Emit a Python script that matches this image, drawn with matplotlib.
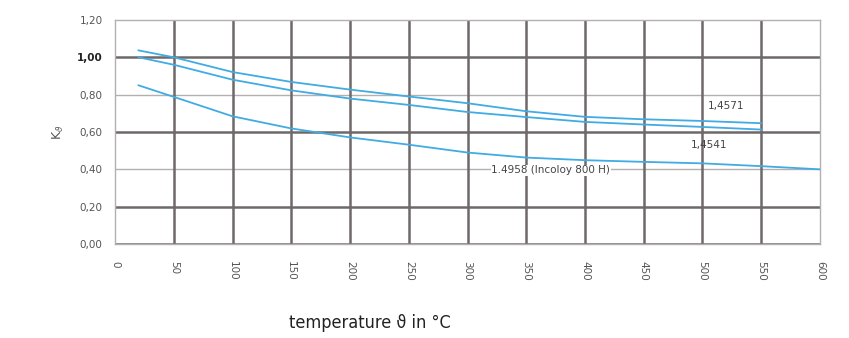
import matplotlib
matplotlib.use("Agg")
import matplotlib.pyplot as plt

# data
temps = [20, 50, 100, 150, 200, 250, 300, 350, 400, 450, 500, 550]
k_4571 = [1.037, 1.00, 0.921, 0.868, 0.827, 0.79, 0.754, 0.711, 0.681, 0.668, 0.659, 0.647]
k_4541 = [1.00, 0.96, 0.88, 0.823, 0.779, 0.745, 0.707, 0.68, 0.654, 0.64, 0.627, 0.613]
temps_4958 = [20, 50, 100, 150, 200, 250, 300, 350, 400, 450, 500, 550, 600]
k_4958 = [0.85, 0.788, 0.684, 0.619, 0.571, 0.532, 0.49, 0.463, 0.449, 0.44, 0.432, 0.417, 0.40]

x_ticks = list(range(0, 601, 50))
y_ticks = [0.0, 0.2, 0.4, 0.6, 0.8, 1.0, 1.2]
y_labels = ["0,00", "0,20", "0,40", "0,60", "0,80", "1,00", "1,20"]
thick_y = [0.0, 0.2, 0.6, 1.0]
thin_y = [0.4, 0.8]

line_color = "#41abe3"
dark_grid = "#6e6869"
light_grid = "#b5b0b0"
tick_color = "#555555"

fig = plt.figure(figsize=(8.49, 3.38), dpi=100)
ax = fig.add_axes([0.1355, 0.278, 0.8303, 0.663])

for y in thin_y:
    ax.axhline(y, color=light_grid, lw=1.0, zorder=1)
for y in thick_y:
    ax.axhline(y, color=dark_grid, lw=1.8, zorder=1)
for x in x_ticks[1:-1]:
    ax.axvline(x, color=dark_grid, lw=1.8, zorder=1)

ax.plot(temps, k_4571, color=line_color, lw=1.3, zorder=3)
ax.plot(temps, k_4541, color=line_color, lw=1.3, zorder=3)
ax.plot(temps_4958, k_4958, color=line_color, lw=1.3, zorder=3)

ax.text(520, 0.737, "1,4571", fontsize=7.5, color="#444444", ha="center", va="center", zorder=4)
ax.text(506, 0.53, "1,4541", fontsize=7.5, color="#444444", ha="center", va="center", zorder=4)
ax.text(371, 0.394, "1.4958 (Incoloy 800 H)", fontsize=7.5, color="#444444",
        ha="center", va="center", zorder=4,
        bbox=dict(facecolor="white", edgecolor="none", pad=0.5))

ax.set_xlim(0, 600)
ax.set_ylim(0, 1.2)
ax.set_xticks(x_ticks)
ax.set_xticklabels([str(t) for t in x_ticks], rotation=-90, fontsize=7.5, color=tick_color)
ax.set_yticks(y_ticks)
ax.set_yticklabels(y_labels, fontsize=7.5, color=tick_color)
for lbl in ax.get_yticklabels():
    if lbl.get_text() == "1,00":
        lbl.set_color("#222222")
        lbl.set_fontweight("bold")
ax.tick_params(axis="y", length=0, pad=9)
ax.tick_params(axis="x", length=0, pad=12)

for side in ["left", "right", "top", "bottom"]:
    ax.spines[side].set_color(light_grid)
    ax.spines[side].set_linewidth(1.0)

ax.set_ylabel("K$_{\\vartheta}$", fontsize=9, color=tick_color, labelpad=8)
fig.text(0.436, 0.045, "temperature ϑ in °C", fontsize=13, color="#222222",
         ha="center", va="center", fontstretch="condensed")

fig.savefig("out.png", dpi=100)
